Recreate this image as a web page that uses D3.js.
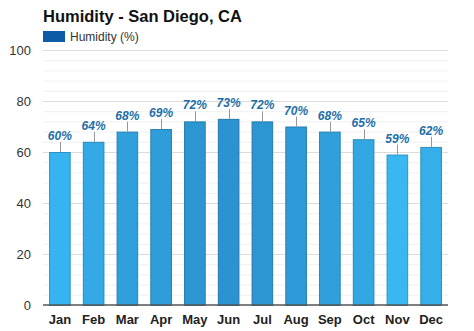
<!DOCTYPE html>
<html><head><meta charset="utf-8">
<script src="https://cdn.jsdelivr.net/npm/d3@7"></script>
<style>body{margin:0;background:#fff;}svg{display:block;font-family:Arial,"Liberation Sans",sans-serif;}</style>
</head><body><svg id="c" width="474" height="331"></svg>
<script>
const months = ["Jan","Feb","Mar","Apr","May","Jun","Jul","Aug","Sep","Oct","Nov","Dec"];
const humidity = [60,64,68,69,72,73,72,70,68,65,59,62];
const yTicks = [0,20,40,60,80,100];
const title = "Humidity - San Diego, CA";
const legendLabel = "Humidity (%)";

const svg = d3.select("#c");
const m = {left:43, right:26, top:50, bottom:26};
const W = 474, H = 331;
const x = d3.scaleBand().domain(months).range([m.left, W - m.right]).paddingInner(0.36).paddingOuter(0.18);
const y = d3.scaleLinear().domain([0,100]).range([H - m.bottom, m.top]);
const col = d3.scaleLinear().domain([59,73]).range(["#38b7f1","#2b93d1"]).interpolate(d3.interpolateRgb);

// minor gridlines
svg.append("g").selectAll("line").data(d3.range(0,101,4).filter(v=>v%20!==0)).join("line")
  .attr("x1", m.left).attr("x2", W - m.right)
  .attr("y1", d=>y(d)+0.5).attr("y2", d=>y(d)+0.5)
  .attr("stroke","#f0f0f0").attr("stroke-width",1);
// major gridlines
svg.append("g").selectAll("line").data(yTicks.filter(v=>v>0)).join("line")
  .attr("x1", m.left).attr("x2", W - m.right)
  .attr("y1", d=>y(d)+0.5).attr("y2", d=>y(d)+0.5)
  .attr("stroke","#dcdcdc").attr("stroke-width",1);

// y axis
const ya = svg.append("g").attr("transform",`translate(${m.left},0)`)
  .call(d3.axisLeft(y).tickValues(yTicks).tickSize(0).tickPadding(12));
ya.select(".domain").remove();
ya.selectAll("text").attr("font-size",13).attr("fill","#333").attr("font-family","Arial,'Liberation Sans',sans-serif");

// bars
svg.append("g").selectAll("rect").data(humidity).join("rect")
  .attr("x",(d,i)=>x(months[i])+0.5).attr("y",d=>y(d)+0.5)
  .attr("width",x.bandwidth()-1).attr("height",d=>y(0)-y(d))
  .attr("fill",d=>col(d)).attr("stroke",d=>d3.color(col(d)).darker(0.6)).attr("stroke-width",1);

// connector lines
svg.append("g").selectAll("line").data(humidity).join("line")
  .attr("x1",(d,i)=>Math.round(x(months[i])+x.bandwidth()/2)+0.5)
  .attr("x2",(d,i)=>Math.round(x(months[i])+x.bandwidth()/2)+0.5)
  .attr("y1",d=>y(d)).attr("y2",d=>y(d)-10)
  .attr("stroke","#999").attr("stroke-width",1);

// value labels
svg.append("g").selectAll("text").data(humidity).join("text")
  .attr("x",(d,i)=>x(months[i])+x.bandwidth()/2).attr("y",d=>y(d)-12)
  .attr("text-anchor","middle").attr("font-size",12).attr("font-weight","bold").attr("font-style","italic")
  .attr("fill","#1d6fa8").text(d=>d+"%");

// x axis
const xa = svg.append("g").attr("transform",`translate(0,${y(0)})`)
  .call(d3.axisBottom(x).tickSize(0).tickPadding(10));
xa.select(".domain").attr("stroke","#555").attr("stroke-width",1.5).attr("d",`M${m.left},0H${W-m.right}`);
xa.selectAll("text").attr("font-size",13).attr("font-weight","bold").attr("fill","#222").attr("font-family","Arial,'Liberation Sans',sans-serif");

// title
svg.append("text").attr("x",43).attr("y",22).attr("font-size",16.5).attr("font-weight","bold").attr("fill","#111").text(title);
// legend
svg.append("rect").attr("x",43).attr("y",31).attr("width",22).attr("height",11).attr("fill","#0d5aa7");
svg.append("text").attr("x",70).attr("y",41).attr("font-size",12).attr("fill","#333").text(legendLabel);
</script></body></html>
